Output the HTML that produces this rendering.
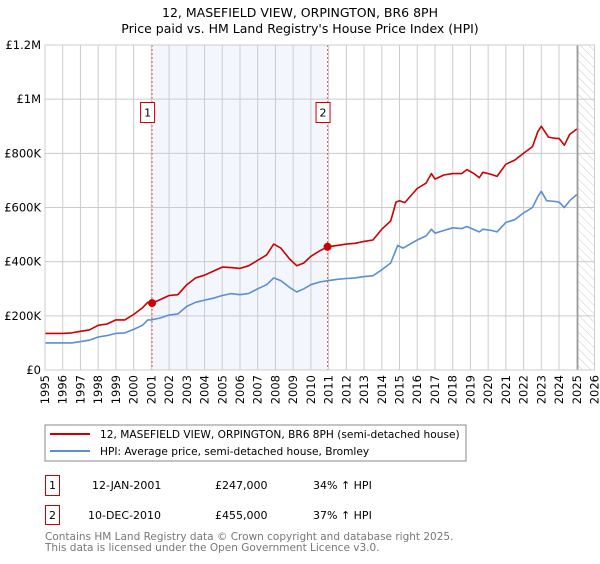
<!DOCTYPE html>
<html><head><meta charset="utf-8"><style>
body{margin:0;background:#fff;font-family:"DejaVu Sans","Liberation Sans",sans-serif;}
svg text{font-family:"DejaVu Sans","Liberation Sans",sans-serif;}
</style></head><body>
<svg id="c" width="600" height="560" xmlns="http://www.w3.org/2000/svg">
<defs><pattern id="hatch" width="6" height="6" patternUnits="userSpaceOnUse" patternTransform="rotate(-45)"><line x1="0" y1="0" x2="0" y2="6" stroke="#ccc" stroke-width="1"/></pattern></defs>
<text x="300" y="17" text-anchor="middle" font-size="12.5" fill="#000">12, MASEFIELD VIEW, ORPINGTON, BR6 8PH</text>
<text x="300" y="33" text-anchor="middle" font-size="12.5" fill="#000">Price paid vs. HM Land Registry's House Price Index (HPI)</text>
<g id="plot"></g>
<rect x="45" y="425" width="421" height="36" fill="#fff" stroke="#888"/>
<line x1="50" y1="434" x2="90" y2="434" stroke="#cc0000" stroke-width="2"/>
<text x="100" y="438" font-size="10.6">12, MASEFIELD VIEW, ORPINGTON, BR6 8PH (semi-detached house)</text>
<line x1="50" y1="451" x2="90" y2="451" stroke="#5b8fd4" stroke-width="2"/>
<text x="100" y="455" font-size="10.6">HPI: Average price, semi-detached house, Bromley</text>
<g>
<rect x="45.5" y="475.5" width="14" height="20" fill="#fff" stroke="#cc0000"/>
<text x="52.5" y="489" font-size="11" text-anchor="middle">1</text>
<text x="92" y="489" font-size="11">12-JAN-2001</text>
<text x="215" y="489" font-size="11">£247,000</text>
<text x="313" y="489" font-size="11">34% ↑ HPI</text></g>
<g>
<rect x="45.5" y="505.5" width="14" height="19" fill="#fff" stroke="#cc0000"/>
<text x="52.5" y="519" font-size="11" text-anchor="middle">2</text>
<text x="88" y="519" font-size="11">10-DEC-2010</text>
<text x="215" y="519" font-size="11">£455,000</text>
<text x="313" y="519" font-size="11">37% ↑ HPI</text></g>
<text x="45" y="540" font-size="10.5" fill="#777">Contains HM Land Registry data © Crown copyright and database right 2025.</text>
<text x="45" y="551" font-size="10.5" fill="#777">This data is licensed under the Open Government Licence v3.0.</text>
</svg>
<script>
const redYears=[1995,1996,1996.5,1997,1997.5,1998,1998.5,1999,1999.5,2000,2000.5,2000.8,2001.04,2001.5,2002,2002.5,2003,2003.5,2004,2004.5,2005,2005.5,2006,2006.5,2007,2007.5,2007.9,2008.3,2008.8,2009.2,2009.6,2010,2010.5,2010.94,2011.5,2012,2012.5,2013,2013.5,2014,2014.5,2014.8,2015,2015.3,2016,2016.5,2016.8,2017,2017.5,2018,2018.5,2018.8,2019.2,2019.5,2019.7,2020.2,2020.5,2021,2021.5,2022,2022.5,2022.8,2023,2023.4,2023.8,2024,2024.3,2024.6,2025];
const redValues=[135,135,137,143,148,165,170,185,185,205,230,250,247,260,275,278,315,340,350,365,380,378,375,385,405,425,465,450,410,385,395,420,440,455,460,465,468,475,480,520,550,620,625,618,670,690,725,705,720,725,725,740,725,710,730,722,715,760,775,800,825,880,900,860,855,855,830,870,890];
const blueYears=[1995,1996.5,1997,1997.5,1998,1998.5,1999,1999.5,2000,2000.5,2000.8,2001,2001.5,2002,2002.5,2003,2003.5,2004,2004.5,2005,2005.5,2006,2006.5,2007,2007.5,2007.9,2008.3,2008.8,2009.2,2009.6,2010,2010.5,2011,2011.5,2012,2012.5,2013,2013.5,2014,2014.5,2014.9,2015.2,2016,2016.5,2016.8,2017,2017.5,2018,2018.5,2018.8,2019.5,2019.7,2020.2,2020.5,2021,2021.5,2022,2022.5,2022.8,2023,2023.3,2023.8,2024,2024.3,2024.6,2025];
const blueValues=[100,100,105,110,122,127,135,137,150,165,185,185,192,203,207,235,250,258,265,275,282,278,283,300,315,340,330,305,288,300,315,325,330,335,338,340,345,348,370,395,460,450,480,495,520,505,515,525,522,530,510,520,515,510,545,555,580,600,640,660,625,622,620,600,625,648];
const saleYears=[2001.04,2010.94];
const saleValues=[247,455];
const saleLabels=["1","2"];
const yTicks=[0,200,400,600,800,1000,1200];
const yTickLabels=["£0","£200K","£400K","£600K","£800K","£1M","£1.2M"];
const xTicks=[];for(let y=1995;y<=2026;y++)xTicks.push(y);
const X0=45,X1=594.5,Y0=370,Y1=45;
const xs=y=>X0+(y-1995)*(X1-X0)/31;
const ys=v=>Y0-v*(Y0-Y1)/1200;
const NS="http://www.w3.org/2000/svg";
const g=document.getElementById('plot');
function mk(t,a){const e=document.createElementNS(NS,t);for(const k in a)e.setAttribute(k,a[k]);g.appendChild(e);return e;}
let e=mk('rect',{x:xs(saleYears[0]),y:Y1,width:xs(saleYears[1])-xs(saleYears[0]),height:Y0-Y1,fill:'#f3f6fd'});


e=mk('rect',{x:xs(2025.05),y:Y1,width:X1-xs(2025.05),height:Y0-Y1,fill:'url(#hatch)'});


xTicks.forEach((t,i)=>{
 const l=mk('line',{x1:xs(t),x2:xs(t),y1:Y1,y2:Y0,stroke:'#cccccc','stroke-width':1});
 
 
 const tx=mk('text',{x:0,y:0,'font-size':11.5,'text-anchor':'end',transform:`translate(${xs(t)+4},${Y0+5}) rotate(-90)`});
 tx.textContent=t;
 
 
});
yTicks.forEach((t,i)=>{
 const l=mk('line',{x1:X0,x2:X1,y1:ys(t),y2:ys(t),stroke:'#cccccc','stroke-width':1});
 
 
 const tx=mk('text',{x:X0-4,y:ys(t)+4,'font-size':11.5,'text-anchor':'end'});
 tx.textContent=yTickLabels[i];
 
 
});
e=mk('line',{x1:xs(2025.05),x2:xs(2025.05),y1:Y1,y2:Y0,stroke:'#999','stroke-width':1.5});


saleYears.forEach((s,i)=>{
 const l=mk('line',{x1:xs(s),x2:xs(s),y1:Y1,y2:Y0,stroke:'#e06060','stroke-width':1,'stroke-dasharray':'2,2'});
 
 
 const r=mk('rect',{x:xs(s)-11.5,y:102.5,width:14,height:20,fill:'#fff',stroke:'#cc0000'});
 
 
 const tx=mk('text',{x:xs(s)-4.5,y:116.5,'font-size':11,'text-anchor':'middle'});
 tx.textContent=saleLabels[i];
 
 
});
function path(xa,va,col,name){
 const d=xa.map((x,i)=>(i?'L':'M')+xs(x).toFixed(1)+','+ys(va[i]).toFixed(1)).join('');
 const p=mk('path',{d:d,fill:'none',stroke:col,'stroke-width':1.6,'stroke-linejoin':'round'});
 
 
}
path(blueYears,blueValues,'#5b8fd4','hpi-line');
path(redYears,redValues,'#cc0000','property-price-line');
saleYears.forEach((s,i)=>{
 const c=mk('circle',{cx:xs(s),cy:ys(saleValues[i]),r:4,fill:'#cc0000'});
 
 
});
e=mk('rect',{x:X0,y:Y1,width:X1-X0,height:Y0-Y1,fill:'none',stroke:'#cccccc'});


</script>
</body></html>
